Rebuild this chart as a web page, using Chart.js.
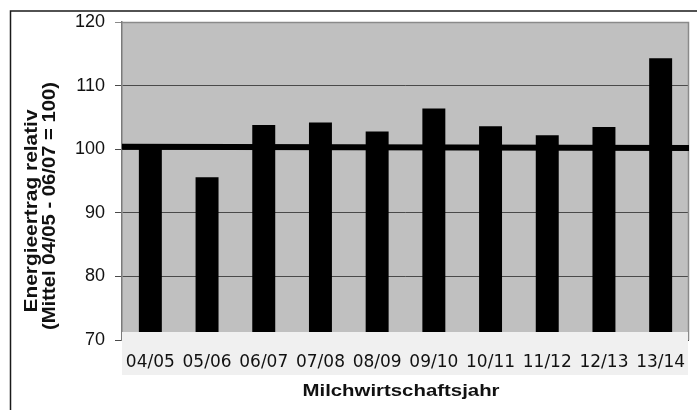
<!DOCTYPE html>
<html>
<head>
<meta charset="utf-8">
<script src="https://cdn.jsdelivr.net/npm/chart.js@4/dist/chart.umd.min.js"></script>
<style>
  html, body { margin: 0; padding: 0; background: #ffffff; }
  #wrap { width: 697px; height: 410px; }
</style>
</head>
<body>
<div id="wrap"><canvas id="c" width="697" height="410"></canvas></div>
<script>
// Marketing years (Milchwirtschaftsjahr)
const seasons = ['04/05', '05/06', '06/07', '07/08', '08/09', '09/10', '10/11', '11/12', '12/13', '13/14'];
// Relative energy yield, mean 04/05 - 06/07 = 100
const energyRelative = [100.5, 95.6, 103.8, 104.2, 102.8, 106.4, 103.6, 102.2, 103.5, 114.3];
// Reference level line, value at left and right edge of the plot
const referenceLevel = [100.4, 100.2];
// Y axis range and tick step
const yMin = 70;
const yMax = 120;
const yStep = 10;

const yTitleLines = ['Energieertrag relativ', '(Mittel 04/05 - 06/07 = 100)'];
const xTitle = 'Milchwirtschaftsjahr';

// draws text centred at (x, y), stretched along its run to the given length
function fittedText(ctx, text, x, y, length) {
  const w = ctx.measureText(text).width;
  ctx.save();
  ctx.translate(x, y);
  ctx.scale(length / w, 1);
  ctx.fillText(text, 0, 0);
  ctx.restore();
}

const frame = {
  id: 'frame',
  beforeDraw(chart) {
    const { ctx, chartArea: a } = chart;
    ctx.save();
    // outer frame
    ctx.strokeStyle = '#1a1a1a';
    ctx.lineWidth = 1.5;
    ctx.beginPath();
    ctx.moveTo(10.5, 420);
    ctx.lineTo(10.5, 11);
    ctx.lineTo(710, 11);
    ctx.stroke();
    // plot background
    ctx.fillStyle = '#c0c0c0';
    ctx.fillRect(a.left, a.top, a.right - a.left, a.bottom - a.top);
    ctx.restore();
  },
  beforeDatasetsDraw(chart) {
    const { ctx, chartArea: a } = chart;
    ctx.save();
    ctx.strokeStyle = '#8a8a8a';
    ctx.lineWidth = 1.5;
    ctx.beginPath();
    ctx.moveTo(a.left, a.top + 0.5);
    ctx.lineTo(a.right - 0.5, a.top + 0.5);
    ctx.lineTo(a.right - 0.5, a.bottom);
    ctx.stroke();
    ctx.restore();
  },
  afterDatasetsDraw(chart) {
    const { ctx, chartArea: a, scales } = chart;
    ctx.save();
    // reference line across the plot
    ctx.strokeStyle = '#000000';
    ctx.lineWidth = 6;
    ctx.beginPath();
    ctx.moveTo(a.left, scales.y.getPixelForValue(referenceLevel[0]));
    ctx.lineTo(a.right, scales.y.getPixelForValue(referenceLevel[1]));
    ctx.stroke();
    // category label band
    ctx.fillStyle = '#f0f0f0';
    ctx.fillRect(a.left, a.bottom - 8, a.right - a.left - 1, 43);
    ctx.restore();
  },
  afterDraw(chart) {
    const { ctx } = chart;
    ctx.save();
    ctx.fillStyle = '#111111';
    ctx.font = 'bold 18px "Liberation Sans", Arial, sans-serif';
    ctx.textAlign = 'center';
    ctx.textBaseline = 'middle';
    ctx.rotate(-Math.PI / 2);
    // after rotation: local x runs upward (negative canvas y), local y runs right
    fittedText(ctx, yTitleLines[0], -211, 32, 203);
    fittedText(ctx, yTitleLines[1], -206, 50, 248);
    ctx.restore();

    ctx.save();
    ctx.fillStyle = '#111111';
    ctx.font = 'bold 17px "Liberation Sans", Arial, sans-serif';
    ctx.textAlign = 'center';
    ctx.textBaseline = 'alphabetic';
    fittedText(ctx, xTitle, 401, 396, 197);
    ctx.restore();
  }
};

new Chart(document.getElementById('c'), {
  type: 'bar',
  data: {
    labels: seasons,
    datasets: [{
      data: energyRelative,
      backgroundColor: '#000000',
      borderWidth: 0,
      barPercentage: 0.405,
      categoryPercentage: 1.0
    }]
  },
  options: {
    responsive: false,
    animation: false,
    devicePixelRatio: 1,
    layout: { padding: { left: 0, top: 22, right: 8, bottom: 0 } },
    plugins: {
      legend: { display: false },
      tooltip: { enabled: false },
      title: { display: false }
    },
    scales: {
      x: {
        grid: { display: false },
        border: { display: false },
        ticks: {
          z: 1,
          color: '#111111',
          padding: 4,
          maxRotation: 0,
          autoSkip: false,
          font: { family: '"DejaVu Sans", Verdana, sans-serif', size: 17 }
        },
        afterFit(scale) { scale.height = 70; }
      },
      y: {
        min: yMin,
        max: yMax,
        grid: {
          color: (c) => (c.tick && c.tick.value === yMax ? '#8a8a8a' : '#4a4a4a'),
          lineWidth: 1,
          tickLength: 7,
          drawTicks: true
        },
        border: { display: true, color: '#7a7a7a', width: 1.5 },
        ticks: {
          stepSize: yStep,
          color: '#111111',
          padding: 10,
          font: { family: '"Liberation Sans", Arial, sans-serif', size: 18 }
        },
        afterFit(scale) { scale.width = 122; }
      }
    }
  },
  plugins: [frame]
});
</script>
</body>
</html>
